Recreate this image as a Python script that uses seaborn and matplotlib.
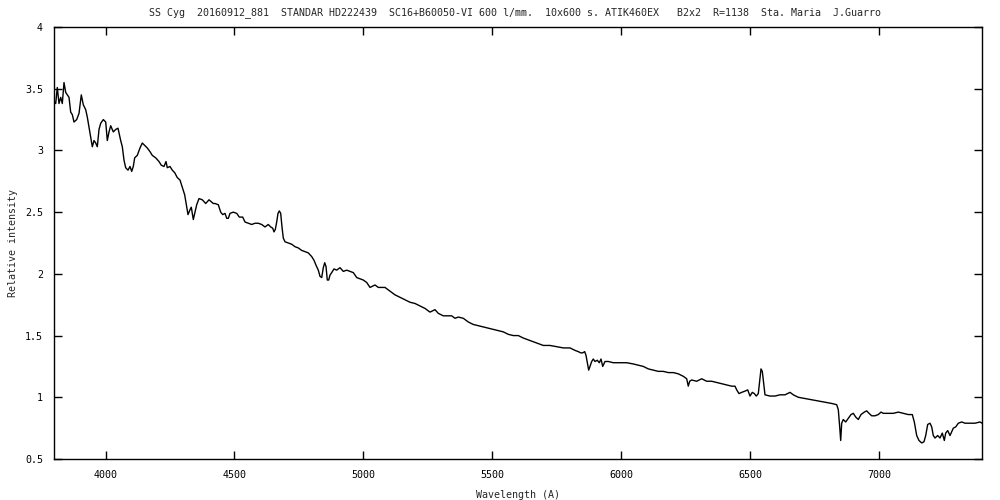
import matplotlib
matplotlib.use("Agg")
import matplotlib.pyplot as plt
import seaborn as sns
import pandas as pd
from matplotlib.ticker import FuncFormatter, MultipleLocator

# spectrum (wavelength in A, relative intensity)
wavelength = [
    3800, 3806.6, 3812.8, 3819.4, 3826, 3832.2, 3838.8, 3845.4, 3858.2, 3864.8,
    3871, 3877.6, 3888, 3897, 3905.9, 3913.7, 3923, 3929.2, 3935.8, 3942.4,
    3948.6, 3955.2, 3961.8, 3968, 3974.6, 3981.2, 3991.3, 4000.6, 4006.8, 4013.4,
    4020, 4030, 4039.4, 4048.3, 4058.7, 4065, 4071.6, 4078.1, 4087.1, 4094.8,
    4101.4, 4107.6, 4113, 4123.1, 4133.6, 4142.5, 4151.9, 4161.9, 4172.4, 4181.3,
    4194.5, 4207.3, 4216.3, 4226.7, 4234.5, 4239.5, 4250, 4258.9, 4268.2, 4278.3,
    4288.8, 4297.7, 4307, 4314.8, 4319.8, 4327.6, 4332.6, 4340.4, 4345.8, 4353.6,
    4362.5, 4375.3, 4388.5, 4401.3, 4418, 4424.6, 4437.4, 4446.7, 4454.5, 4463.4,
    4470, 4476.2, 4482.8, 4495.6, 4508.8, 4518.8, 4532, 4541, 4553.7, 4566.9,
    4579.7, 4592.5, 4605.7, 4618.5, 4631.3, 4640.6, 4648.4, 4653.4, 4658.5, 4663.9,
    4669, 4674, 4679.4, 4684.5, 4689.5, 4696.1, 4708.9, 4722.1, 4734.9, 4747.7,
    4760.9, 4773.7, 4786.5, 4799.7, 4808.6, 4816.4, 4825.3, 4831.9, 4838.5, 4844.7,
    4850.2, 4855.2, 4860.2, 4865.6, 4870.7, 4877.3, 4886.2, 4896.6, 4909.5, 4922.3,
    4935.5, 4948.3, 4961.1, 4974.3, 4987.1, 4999.9, 5013.1, 5025.9, 5045.3, 5058.1,
    5084, 5103.4, 5122.8, 5142.2, 5161.6, 5181, 5200.4, 5219.8, 5239.2, 5258.6,
    5278, 5290.8, 5310.2, 5329.6, 5342.8, 5355.6, 5368.4, 5387.8, 5407.2, 5426.6,
    5446, 5465.4, 5484.8, 5504.2, 5523.6, 5543, 5562.4, 5581.8, 5601.2, 5620.6,
    5646.6, 5672.5, 5698.1, 5724.1, 5750.1, 5775.7, 5801.7, 5821.1, 5833.9, 5843.2,
    5851, 5858.7, 5863.8, 5868.8, 5874.2, 5879.3, 5885.9, 5892.1, 5898.7, 5907.6,
    5915.4, 5922, 5928.6, 5937.5, 5950.3, 5969.7, 5995.7, 6021.7, 6047.3, 6066.7,
    6086.1, 6105.5, 6124.9, 6144.3, 6163.7, 6183.1, 6202.5, 6221.9, 6241.2, 6254.4,
    6260.6, 6266, 6273.8, 6293.2, 6312.6, 6332, 6351.2, 6370.8, 6390.2, 6409.6,
    6429, 6441.8, 6448.4, 6457.3, 6467.8, 6480.6, 6491.1, 6500, 6508.9, 6516.7,
    6524.4, 6532.2, 6537.6, 6542.7, 6547.7, 6553.2, 6558.2, 6577.6, 6597, 6616.4,
    6635.8, 6655.2, 6668, 6687.4, 6713.4, 6739.4, 6765, 6791, 6817, 6836.3,
    6842.5, 6848, 6851.8, 6855.7, 6861.9, 6871.2, 6881.3, 6891.8, 6900.7, 6910,
    6920.1, 6930.6, 6943.4, 6952.7, 6961.6, 6972.1, 6984.9, 6997.7, 7008.2, 7017.1,
    7036.5, 7055.9, 7075.3, 7094.7, 7114.1, 7129.6, 7137.4, 7146.7, 7155.6, 7166.1,
    7175, 7181.6, 7189.4, 7198.3, 7204.9, 7211.1, 7217.7, 7228.1, 7237.1, 7246,
    7253.8, 7259.2, 7267, 7275.9, 7288.7, 7298, 7308.1, 7321.3, 7334.1, 7353.5,
    7372.9, 7392.3, 7400,
]
intensity = [
    3.40, 3.38, 3.51, 3.38, 3.43, 3.38, 3.55, 3.47, 3.43, 3.31,
    3.29, 3.23, 3.25, 3.30, 3.45, 3.37, 3.33, 3.27, 3.19, 3.11,
    3.03, 3.08, 3.06, 3.03, 3.17, 3.22, 3.25, 3.23, 3.08, 3.15,
    3.20, 3.15, 3.17, 3.18, 3.08, 3.03, 2.92, 2.86, 2.84, 2.87,
    2.83, 2.87, 2.94, 2.96, 3.02, 3.06, 3.04, 3.02, 2.99, 2.96,
    2.94, 2.91, 2.88, 2.87, 2.91, 2.86, 2.87, 2.84, 2.82, 2.78,
    2.76, 2.70, 2.64, 2.54, 2.48, 2.52, 2.54, 2.44, 2.49, 2.56,
    2.61, 2.60, 2.57, 2.60, 2.57, 2.57, 2.56, 2.50, 2.48, 2.49,
    2.45, 2.45, 2.49, 2.50, 2.49, 2.46, 2.46, 2.42, 2.41, 2.40,
    2.41, 2.41, 2.40, 2.38, 2.40, 2.38, 2.37, 2.34, 2.36, 2.42,
    2.49, 2.51, 2.49, 2.38, 2.29, 2.26, 2.25, 2.24, 2.22, 2.21,
    2.19, 2.18, 2.17, 2.14, 2.11, 2.07, 2.03, 1.98, 1.97, 2.05,
    2.09, 2.06, 1.95, 1.95, 1.99, 2.01, 2.04, 2.03, 2.05, 2.02,
    2.03, 2.02, 2.01, 1.97, 1.96, 1.95, 1.93, 1.89, 1.91, 1.89,
    1.89, 1.86, 1.83, 1.81, 1.79, 1.77, 1.76, 1.74, 1.72, 1.69,
    1.71, 1.68, 1.66, 1.66, 1.66, 1.64, 1.65, 1.64, 1.61, 1.59,
    1.58, 1.57, 1.56, 1.55, 1.54, 1.53, 1.51, 1.50, 1.50, 1.48,
    1.46, 1.44, 1.42, 1.42, 1.41, 1.40, 1.40, 1.38, 1.37, 1.36,
    1.36, 1.37, 1.34, 1.28, 1.22, 1.25, 1.29, 1.31, 1.29, 1.30,
    1.28, 1.31, 1.25, 1.29, 1.29, 1.28, 1.28, 1.28, 1.27, 1.26,
    1.25, 1.23, 1.22, 1.21, 1.21, 1.20, 1.20, 1.19, 1.17, 1.15,
    1.09, 1.13, 1.14, 1.13, 1.15, 1.13, 1.13, 1.12, 1.11, 1.10,
    1.09, 1.09, 1.06, 1.03, 1.04, 1.05, 1.06, 1.01, 1.04, 1.03,
    1.01, 1.03, 1.13, 1.23, 1.21, 1.11, 1.02, 1.01, 1.01, 1.02,
    1.02, 1.04, 1.02, 1.00, 0.99, 0.98, 0.97, 0.96, 0.95, 0.94,
    0.90, 0.76, 0.65, 0.79, 0.82, 0.80, 0.83, 0.86, 0.87, 0.84,
    0.82, 0.86, 0.88, 0.89, 0.87, 0.85, 0.85, 0.86, 0.88, 0.87,
    0.87, 0.87, 0.88, 0.87, 0.86, 0.86, 0.80, 0.69, 0.65, 0.63,
    0.64, 0.69, 0.78, 0.79, 0.76, 0.69, 0.67, 0.69, 0.67, 0.71,
    0.65, 0.71, 0.73, 0.69, 0.75, 0.76, 0.79, 0.80, 0.79, 0.79,
    0.79, 0.80, 0.79,
]

title = ("SS Cyg  20160912_881  STANDAR HD222439  SC16+B60050-VI 600 l/mm.  "
         "10x600 s. ATIK460EX   B2x2  R=1138  Sta. Maria  J.Guarro")

sns.set_style("ticks")
plt.rcParams['font.family'] = ['DejaVu Sans Mono']
plt.rcParams['font.size'] = 7.2

df = pd.DataFrame({'wavelength': wavelength, 'intensity': intensity})

fig = plt.figure(figsize=(10, 5), dpi=100)
ax = fig.add_axes([0.054, 0.082, 0.928, 0.864])

sns.lineplot(data=df, x='wavelength', y='intensity', ax=ax,
             estimator=None, sort=False, color='black', linewidth=1.0)

ax.set_xlim(3800, 7400)
ax.set_ylim(0.5, 4)
ax.xaxis.set_major_locator(MultipleLocator(500))
ax.yaxis.set_major_locator(MultipleLocator(0.5))
ax.yaxis.set_major_formatter(FuncFormatter(lambda v, p: '%g' % v))
ax.xaxis.set_major_formatter(FuncFormatter(lambda v, p: '%g' % v))

ax.tick_params(direction='in', length=6, width=1, top=True, right=True,
               labelsize=7.2, colors='black', pad=8)
for s in ax.spines.values():
    s.set_color('black')
    s.set_linewidth(1)

ax.set_xlabel('Wavelength (A)', fontsize=7.2)
ax.set_ylabel('Relative intensity', fontsize=7.2)
ax.yaxis.set_label_coords(-0.039, 0.5)
ax.xaxis.set_label_coords(0.5, -0.072)
fig.text(0.515, 0.974, title, ha='center', va='center', fontsize=7.2)

fig.savefig('out.png', dpi=100, facecolor='white')
plt.close(fig)
